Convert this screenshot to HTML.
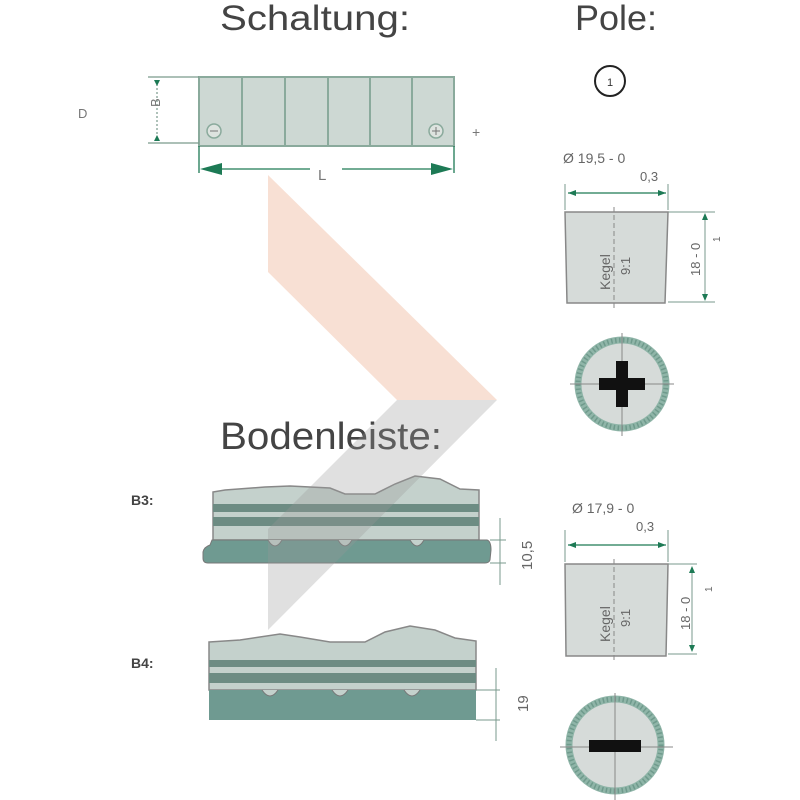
<!DOCTYPE html>
<html><head><meta charset="utf-8"><style>body{margin:0;background:#fff}svg{display:block}</style></head>
<body>
<svg width="800" height="800" viewBox="0 0 800 800" xmlns="http://www.w3.org/2000/svg" font-family="Liberation Sans, sans-serif">
<rect width="800" height="800" fill="#fff"/>
<!-- titles -->
<text x="220" y="30" font-size="35" fill="#444" textLength="190" lengthAdjust="spacingAndGlyphs">Schaltung:</text>
<text x="575" y="30" font-size="35" fill="#444" textLength="82" lengthAdjust="spacingAndGlyphs">Pole:</text>
<text x="220" y="449" font-size="38" fill="#444" textLength="222" lengthAdjust="spacingAndGlyphs">Bodenleiste:</text>
<circle cx="610" cy="81" r="15" fill="none" stroke="#222" stroke-width="2"/>
<text x="610" y="86" font-size="11" text-anchor="middle" fill="#333">1</text>
<!-- battery top -->
<text x="78" y="118" font-size="13" fill="#777">D</text>
<rect x="199" y="77" width="255" height="69" fill="#cdd8d3" stroke="#8aaa9c" stroke-width="2"/>
<g stroke="#8aaa9c" stroke-width="2"><line x1="242" y1="77" x2="242" y2="146"/><line x1="285" y1="77" x2="285" y2="146"/><line x1="328" y1="77" x2="328" y2="146"/><line x1="370" y1="77" x2="370" y2="146"/><line x1="412" y1="77" x2="412" y2="146"/></g>
<g stroke="#7a9a8c" stroke-width="1.2"><line x1="148" y1="77" x2="199" y2="77"/><line x1="148" y1="143" x2="199" y2="143"/><line x1="157" y1="80" x2="157" y2="141" stroke-dasharray="2 2"/></g>
<path d="M154 80 h6 l-3 6z M154 141 h6 l-3 -6z" fill="#1d7a55"/>
<text x="165" y="112" font-size="13" fill="#777" transform="rotate(-90 160 112)">B</text>
<circle cx="214" cy="131" r="7" fill="#dde3df" stroke="#8aaa9c" stroke-width="1.5"/><line x1="210" y1="131" x2="218" y2="131" stroke="#777"/>
<circle cx="436" cy="131" r="7" fill="#dde3df" stroke="#8aaa9c" stroke-width="1.5"/><path d="M432 131h8M436 127v8" stroke="#777"/>
<text x="472" y="137" font-size="14" fill="#777">+</text>
<g stroke="#1d7a55" stroke-width="1.3"><line x1="199" y1="146" x2="199" y2="173"/><line x1="454" y1="146" x2="454" y2="173"/><line x1="205" y1="169" x2="310" y2="169"/><line x1="342" y1="169" x2="450" y2="169"/></g>
<path d="M200 169 l22 -6 v12z M453 169 l-22 -6 v12z" fill="#1d7a55"/>
<text x="318" y="180" font-size="15" fill="#777">L</text>
<!-- pole 1 -->
<text x="563" y="163" font-size="14" fill="#666">Ø 19,5 - 0</text>
<text x="640" y="181" font-size="13" fill="#666">0,3</text>
<g stroke="#7a9a8c" stroke-width="1"><line x1="565" y1="184" x2="565" y2="210"/><line x1="668" y1="184" x2="668" y2="210"/><line x1="668" y1="212" x2="715" y2="212"/><line x1="668" y1="302" x2="715" y2="302"/><line x1="705" y1="215" x2="705" y2="300"/></g>
<line x1="568" y1="193" x2="666" y2="193" stroke="#1d7a55" stroke-width="1.3"/>
<path d="M568 193l8-3v6z M666 193l-8-3v6z M705 213l-3 7h6z M705 301l-3-7h6z" fill="#1d7a55"/>
<path d="M565 212 L668 212 L665 303 L567 303 Z" fill="#d6dbd9" stroke="#888" stroke-width="1.5"/>
<line x1="614" y1="207" x2="614" y2="308" stroke="#888" stroke-dasharray="5 3"/>
<text x="610" y="290" font-size="14" fill="#666" transform="rotate(-90 610 290)">Kegel</text>
<text x="630" y="275" font-size="13" fill="#666" transform="rotate(-90 630 275)">9:1</text>
<text x="700" y="276" font-size="13" fill="#666" transform="rotate(-90 700 276)">18 - 0</text>
<text x="720" y="242" font-size="10" fill="#666" transform="rotate(-90 720 242)">1</text>
<circle cx="622" cy="384" r="44" fill="#d6dbd9" stroke="#8fb5a8" stroke-width="7"/>
<circle cx="622" cy="384" r="44" fill="none" stroke="#6f9a8c" stroke-width="5" stroke-dasharray="1.5 2.5"/>
<g stroke="#888" stroke-width="1"><line x1="622" y1="333" x2="622" y2="436"/><line x1="570" y1="384" x2="674" y2="384"/></g>
<path d="M616 361h12v17h17v12h-17v17h-12v-17h-17v-12h17z" fill="#111"/>
<!-- pole 2 -->
<text x="572" y="513" font-size="14" fill="#666">Ø 17,9 - 0</text>
<text x="636" y="531" font-size="13" fill="#666">0,3</text>
<g stroke="#7a9a8c" stroke-width="1"><line x1="565" y1="530" x2="565" y2="562"/><line x1="668" y1="530" x2="668" y2="562"/><line x1="668" y1="564" x2="697" y2="564"/><line x1="668" y1="654" x2="697" y2="654"/><line x1="692" y1="567" x2="692" y2="651"/></g>
<line x1="568" y1="545" x2="666" y2="545" stroke="#1d7a55" stroke-width="1.3"/>
<path d="M568 545l8-3v6z M666 545l-8-3v6z M692 566l-3 7h6z M692 652l-3-7h6z" fill="#1d7a55"/>
<path d="M565 564 L668 564 L666 656 L566 656 Z" fill="#d6dbd9" stroke="#888" stroke-width="1.5"/>
<line x1="614" y1="559" x2="614" y2="663" stroke="#888" stroke-dasharray="5 3"/>
<text x="610" y="642" font-size="14" fill="#666" transform="rotate(-90 610 642)">Kegel</text>
<text x="630" y="627" font-size="13" fill="#666" transform="rotate(-90 630 627)">9:1</text>
<text x="690" y="630" font-size="13" fill="#666" transform="rotate(-90 690 630)">18 - 0</text>
<text x="712" y="592" font-size="10" fill="#666" transform="rotate(-90 712 592)">1</text>
<circle cx="615" cy="745" r="46" fill="#d6dbd9" stroke="#8fb5a8" stroke-width="7"/>
<circle cx="615" cy="745" r="46" fill="none" stroke="#6f9a8c" stroke-width="5" stroke-dasharray="1.5 2.5"/>
<g stroke="#888" stroke-width="1"><line x1="615" y1="693" x2="615" y2="800"/><line x1="560" y1="747" x2="673" y2="747"/></g>
<rect x="589" y="740" width="52" height="12" fill="#111"/>
<!-- B3 -->
<text x="131" y="505" font-size="14" font-weight="bold" fill="#444">B3:</text>
<path d="M213 492 L225 490 L265 487 L290 486 L330 488 L345 494 L375 494 L395 484 L415 476 L440 479 L460 489 L479 490 L479 540 L213 540 Z" fill="#c4d1cc" stroke="#888" stroke-width="1.5"/>
<rect x="213" y="504" width="266" height="8" fill="#6d8c83"/>
<rect x="213" y="517" width="266" height="9" fill="#6d8c83"/>
<path d="M212 540 L487 540 Q491 541 491 550 L490 560 Q489 563 485 563 L208 563 Q203 563 203 558 L203 552 Q204 547 210 545 Z" fill="#6f9a91" stroke="#777"/>
<path d="M268 540 q7 12 14 0 M338 540 q7 12 14 0 M410 540 q7 12 14 0" fill="#c4d1cc" stroke="#777"/>
<!-- B4 -->
<text x="131" y="668" font-size="14" font-weight="bold" fill="#444">B4:</text>
<path d="M209 642 L240 640 L280 634 L300 637 L330 642 L365 642 L385 632 L410 626 L435 630 L455 638 L476 641 L476 690 L209 690 Z" fill="#c4d1cc" stroke="#888" stroke-width="1.5"/>
<rect x="209" y="660" width="267" height="7" fill="#6d8c83"/>
<rect x="209" y="673" width="267" height="10" fill="#6d8c83"/>
<rect x="209" y="690" width="267" height="30" fill="#6f9a91"/>
<path d="M262 690 q8 12 16 0 M332 690 q8 12 16 0 M404 690 q8 12 16 0" fill="#c4d1cc" stroke="#777"/>
<!-- dims B -->
<g stroke="#7a9a8c" stroke-width="1"><line x1="490" y1="540" x2="506" y2="540"/><line x1="490" y1="563" x2="506" y2="563"/><line x1="500" y1="518" x2="500" y2="585"/>
<line x1="476" y1="690" x2="500" y2="690"/><line x1="476" y1="720" x2="500" y2="720"/><line x1="496" y1="668" x2="496" y2="741"/></g>
<text x="532" y="570" font-size="15" fill="#666" transform="rotate(-90 532 570)">10,5</text>
<text x="528" y="712" font-size="15" fill="#666" transform="rotate(-90 528 712)">19</text>
<!-- watermark chevron -->
<polygon points="268,175 497,400 397,400 268,272" fill="#f3c7b0" opacity="0.55"/>
<polygon points="497,400 268,630 268,529 397,400" fill="#999" opacity="0.3"/>
</svg>
</body></html>
